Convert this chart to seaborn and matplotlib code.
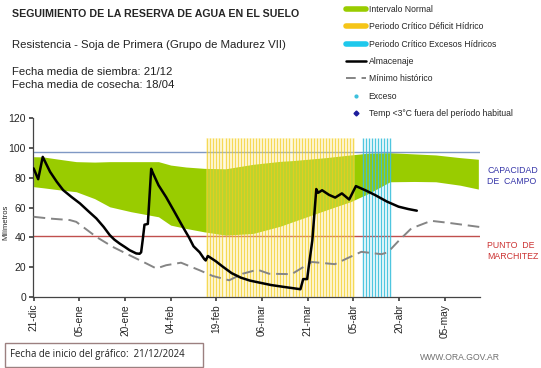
import numpy as np
import pandas as pd
import matplotlib
matplotlib.use("Agg")
import matplotlib.pyplot as plt
from matplotlib.lines import Line2D
from matplotlib.patches import Rectangle
import seaborn as sns

# ---------------- data ----------------
tick_days = [0, 15, 30, 45, 60, 75, 90, 105, 120, 135]
tick_labels = ["21-dic", "05-ene", "20-ene", "04-feb", "19-feb", "06-mar",
               "21-mar", "05-abr", "20-abr", "05-may"]

band_days = [0, 3, 8, 14, 20, 25, 32, 41, 45, 50, 56, 63, 72, 81, 85, 96, 104, 110, 117, 125, 132, 140, 146]
band_upper = [94.1, 94, 92.5, 90.8, 90.5, 90.8, 90.8, 90.8, 88.5, 87.2, 86.3, 86, 89, 91, 91.5, 93.5, 95.3, 96.5, 96.8, 96, 95.3, 93.5, 92.4]
band_lower = [74, 73.3, 72, 70.6, 66, 60.5, 57.2, 53.8, 48.2, 46, 43.7, 41.5, 42.6, 47.5, 50.4, 58.3, 63.9, 69.5, 77.3, 77.5, 77.3, 75, 72.4]

alm_days = [0, 1.5, 3, 5.4, 7.6, 9.7, 12.5, 15.2, 18, 20.6, 23, 25, 26.5, 28.2, 30, 31.5, 33.7, 34.8,
            35.3, 35.8, 36.4, 37.5,
            38.6, 39.2, 41, 43.5, 46, 49, 51, 52.5, 54.5, 56, 56.5, 57.2, 59.8, 62, 65, 68, 71, 74,
            78, 82, 87.6, 88.5, 89.8, 90.3, 91.5, 92.8, 93.4, 94.7, 97, 99, 101.2, 103.6, 105.8,
            109, 112.1, 116, 119.8, 123, 125.8]
alm_vals = [86.3, 79, 94, 84, 77.3, 71.7, 67, 62.8, 57.5, 52.7, 47, 41.5, 38.5, 35.9, 33.5, 31.4, 29.2, 29,
            30, 38, 48.5, 49,
            86, 83, 75, 67, 58, 47, 40, 34, 30, 25.5, 24.5, 27.5, 24, 20.5, 16, 13, 11, 9.7,
            8, 6.8, 5.2, 12, 12, 20, 38, 72.4, 69.9, 71.6, 68.5, 66.7, 69.5, 65.4, 74.4,
            71.5, 68.4, 64, 60.6, 59, 57.9]

min_days = [0, 5.4, 11.9, 14, 20.6, 26, 31.5, 37, 40.3, 43.5, 48.4, 54.4, 58.8, 64.2, 68.6, 73.5,
            77.3, 84.7, 91.3, 98.9, 103, 107.6, 114.2, 116.3, 120, 124, 130.5, 136, 146.3]
min_vals = [53.8, 52.6, 51.6, 50.4, 40.3, 33.6, 28, 22.5, 19.1, 21.3, 23, 18, 14.1, 11.2, 15.6, 18.3,
            15.6, 15.3, 23.5, 22, 26, 30.3, 28.7, 30, 38, 46, 51.1, 49.8, 47]

deficit_days = list(range(57, 106))
exceso_days = list(range(108, 118))
capacidad_campo = 97.3
punto_marchitez = 40.8

# ---------------- figure ----------------
sns.set_theme(style="white")
plt.rcParams['font.family'] = ['Liberation Sans', 'DejaVu Sans']

fig = plt.figure(figsize=(5.41, 3.68), dpi=100)
ax = fig.add_axes([0.061, 0.193, 0.826, 0.486])

green = "#99cc00"
yellow = "#f2cc1a"
cyan = "#3cc0dc"

ax.fill_between(band_days, band_lower, band_upper, color=green, lw=0, zorder=1)

ax.axhline(capacidad_campo, color="#7f98c4", lw=1.0, zorder=2)
ax.axhline(punto_marchitez, color="#c0504d", lw=1.0, zorder=2)

ax.bar(deficit_days, [107] * len(deficit_days), width=1.0, color="#fff0a0", alpha=0.3, lw=0, zorder=2)
ax.vlines(deficit_days, 0, 107, color=yellow, lw=0.95, alpha=0.7, zorder=3)
ax.vlines(exceso_days, 0, 107, color=cyan, lw=1.0, alpha=0.9, zorder=3)

df_alm = pd.DataFrame({"dia": alm_days, "mm": alm_vals})
df_min = pd.DataFrame({"dia": min_days, "mm": min_vals})
sns.lineplot(data=df_min, x="dia", y="mm", ax=ax, color="#858585", lw=1.4,
             linestyle=(0, (6, 3)), zorder=4)
sns.lineplot(data=df_alm, x="dia", y="mm", ax=ax, color="black", lw=1.8, zorder=5)

ax.set_xlim(-0.2, 146.5)
ax.set_ylim(0, 120)
ax.set_yticks(range(0, 121, 20))
ax.set_xticks(tick_days)
ax.set_xticklabels(tick_labels, rotation=90, fontsize=7.3)
ax.tick_params(axis="y", labelsize=7.5, length=3, direction="out", pad=2, color="#444444", left=True)
ax.tick_params(axis="x", length=3, direction="out", pad=2, color="#444444", bottom=True)
ax.set_xlabel("")
ax.set_ylabel("Milímetros", fontsize=5.5)
ax.yaxis.set_label_coords(-0.053, 0.42)
for s in ["top", "right"]:
    ax.spines[s].set_visible(False)
for s in ["left", "bottom"]:
    ax.spines[s].set_color("#444444")
    ax.spines[s].set_linewidth(0.9)

# right-side labels
fig.text(487 / 541, 1 - 176 / 368, "CAPACIDAD\nDE  CAMPO", color="#3535a8", fontsize=6.3,
         va="center", ha="left", linespacing=1.15)
fig.text(487 / 541, 1 - 251 / 368, "PUNTO  DE\nMARCHITEZ", color="#cc3333", fontsize=6.3,
         va="center", ha="left", linespacing=1.15)

# titles
fig.text(12 / 541, 1 - 14 / 368, "SEGUIMIENTO DE LA RESERVA DE AGUA EN EL SUELO",
         fontsize=7.7, fontweight="bold", va="center", ha="left")
fig.text(12 / 541, 1 - 45 / 368, "Resistencia - Soja de Primera (Grupo de Madurez VII)",
         fontsize=8.2, va="center", ha="left", color="#222222")
fig.text(12 / 541, 1 - 72 / 368, "Fecha media de siembra: 21/12",
         fontsize=8.2, va="center", ha="left", color="#222222")
fig.text(12 / 541, 1 - 85 / 368, "Fecha media de cosecha: 18/04",
         fontsize=8.2, va="center", ha="left", color="#222222")

# legend
handles = [
    Line2D([], [], color=green, lw=4),
    Line2D([], [], color="#f5c518", lw=4),
    Line2D([], [], color="#1ec8ec", lw=4),
    Line2D([], [], color="black", lw=1.8),
    Line2D([], [], color="#858585", lw=1.4, linestyle=(0, (5, 3))),
    Line2D([], [], color="#3cc0dc", marker="o", markersize=2, lw=0),
    Line2D([], [], color="#1c1c9c", marker="D", markersize=2.5, lw=0),
]
labels = ["Intervalo Normal", "Periodo Crítico Déficit Hídrico", "Periodo Crítico Excesos Hídricos",
          "Almacenaje", "Mínimo histórico", "Exceso", "Temp <3°C fuera del período habitual"]
fig.legend(handles, labels, loc="upper left", bbox_to_anchor=(344 / 541, 1 - 3 / 368),
           frameon=False, fontsize=6.2, handlelength=2.3, handletextpad=0.35,
           labelspacing=0.98, borderaxespad=0, borderpad=0.2)

# bottom box
fig.patches.append(Rectangle((5 / 541, 1 - 367 / 368), 198 / 541, 24 / 368,
                             transform=fig.transFigure, fill=False, edgecolor="#9c8080", lw=1.0))
fig.text(10 / 541, 1 - 355 / 368, "Fecha de inicio del gráfico:  21/12/2024",
         fontsize=6.9, va="center", ha="left", color="#222222", family=["Open Sans", "DejaVu Sans"])
fig.text(500 / 541, 1 - 358 / 368, "WWW.ORA.GOV.AR", fontsize=6.2, va="center", ha="right",
         color="#707070")

fig.savefig("out.png", dpi=100)
